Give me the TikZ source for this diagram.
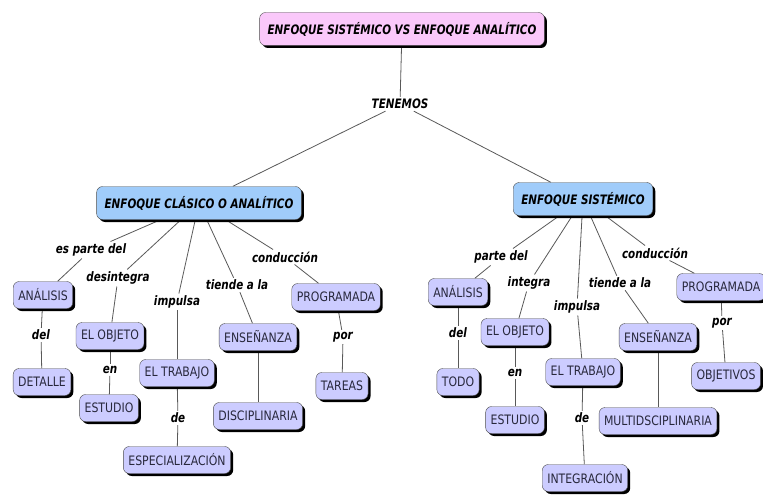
\documentclass[tikz,border=0pt]{standalone}
\usepackage{fontspec}
\setmainfont{DejaVu Sans}
\newfontfamily\boxfont[FakeStretch=0.84]{DejaVu Sans}
\newfontfamily\lblfont[FakeStretch=0.8]{DejaVu Sans Bold Oblique}
\usetikzlibrary{shadows}
\definecolor{boxc}{RGB}{204,204,255}
\definecolor{blu}{RGB}{160,204,250}
\definecolor{pnk}{RGB}{250,200,250}
\definecolor{txt}{RGB}{40,40,60}
\pgfdeclarelayer{bg}
\pgfdeclarelayer{lines}
\pgfsetlayers{bg,lines,main}
\tikzset{
  box/.style={draw=black!70, rounded corners=6pt, fill=boxc, text=txt,
    font=\boxfont\fontsize{13}{15}\selectfont, minimum height=27pt, inner xsep=5pt,
    drop shadow={shadow xshift=2.5pt, shadow yshift=-2.5pt, fill=black, opacity=1}},
  hdr/.style={box, font=\lblfont\fontsize{13}{15}\selectfont, text=black,
    minimum height=33pt, inner xsep=8pt},
  lbl/.style={font=\lblfont\fontsize{13}{15}\selectfont, inner sep=2pt, text=black},
  conn/.style={draw=black!65, line width=0.8pt}
}
\begin{document}
\begin{tikzpicture}[x=1pt,y=-1pt]
\begin{pgfonlayer}{bg}
\fill[white] (0,0) rectangle (763,495);
\end{pgfonlayer}
\useasboundingbox (0,0) rectangle (763,495);
% top
\node[hdr, fill=pnk] (title) at (402,29) {ENFOQUE SISTÉMICO VS ENFOQUE ANALÍTICO};
\node[lbl] (ten) at (400,104) {TENEMOS};
\node[hdr, fill=blu] (eca) at (199,203) {ENFOQUE CLÁSICO O ANALÍTICO};
\node[hdr, fill=blu] (es) at (583,199) {ENFOQUE SISTÉMICO};
% left cluster
\node[lbl] (l1) at (91,250) {es parte del};
\node[box] (lan) at (43,295) {ANÁLISIS};
\node[lbl] (l1b) at (41,335) {del};
\node[box] (ldet) at (42,382) {DETALLE};
\node[lbl] (l2) at (118,278) {desintegra};
\node[box] (lobj) at (110,336) {EL OBJETO};
\node[lbl] (l2b) at (110,370) {en};
\node[box] (lest) at (109,408) {ESTUDIO};
\node[lbl] (l3) at (177,302) {impulsa};
\node[box] (ltra) at (177,373) {EL TRABAJO};
\node[lbl] (l3b) at (178,418) {de};
\node[box] (lesp) at (177,460) {ESPECIALIZACIÓN};
\node[lbl] (l4) at (237,285) {tiende a la};
\node[box] (lens) at (258,337) {ENSEÑANZA};
\node[box] (ldis) at (258,416) {DISCIPLINARIA};
\node[lbl] (l5) at (285,257) {conducción};
\node[box] (lpro) at (336,297) {PROGRAMADA};
\node[lbl] (l5b) at (343,337) {por};
\node[box] (ltar) at (342,386) {TAREAS};
% right cluster
\node[lbl] (r1) at (501,257) {parte del};
\node[box] (ran) at (458,292) {ANÁLISIS};
\node[lbl] (r1b) at (458,333) {del};
\node[box] (rtod) at (458,382) {TODO};
\node[lbl] (r2) at (529,283) {integra};
\node[box] (robj) at (515,332) {EL OBJETO};
\node[lbl] (r2b) at (515,373) {en};
\node[box] (rest) at (515,420) {ESTUDIO};
\node[lbl] (r3) at (577,307) {impulsa};
\node[box] (rtra) at (583,372) {EL TRABAJO};
\node[lbl] (r3b) at (582,418) {de};
\node[box] (rint) at (585,478) {INTEGRACIÓN};
\node[lbl] (r4) at (620,283) {tiende a la};
\node[box] (rens) at (658,337) {ENSEÑANZA};
\node[box] (rmul) at (658,421) {MULTIDSCIPLINARIA};
\node[lbl] (r5) at (655,253) {conducción};
\node[box] (rpro) at (721,287) {PROGRAMADA};
\node[lbl] (r5b) at (722,323) {por};
\node[box] (robjv) at (726,376) {OBJETIVOS};
\begin{pgfonlayer}{lines}
\draw[conn] (title) -- (ten);
\draw[conn] (ten) -- (eca);
\draw[conn] (ten) -- (es);
% left
\draw[conn] (eca) -- (l1); \draw[conn] (l1) -- (lan);
\draw[conn] (lan) -- (l1b); \draw[conn] (l1b) -- (ldet);
\draw[conn] (eca) -- (l2); \draw[conn] (l2) -- (lobj);
\draw[conn] (lobj) -- (l2b); \draw[conn] (l2b) -- (lest);
\draw[conn] (eca) -- (l3); \draw[conn] (l3) -- (ltra);
\draw[conn] (ltra) -- (l3b); \draw[conn] (l3b) -- (lesp);
\draw[conn] (eca) -- (l4); \draw[conn] (l4) -- (lens);
\draw[conn] (lens) -- (ldis);
\draw[conn] (eca) -- (l5); \draw[conn] (l5) -- (lpro);
\draw[conn] (lpro) -- (l5b); \draw[conn] (l5b) -- (ltar);
% right
\draw[conn] (es) -- (r1); \draw[conn] (r1) -- (ran);
\draw[conn] (ran) -- (r1b); \draw[conn] (r1b) -- (rtod);
\draw[conn] (es) -- (r2); \draw[conn] (r2) -- (robj);
\draw[conn] (robj) -- (r2b); \draw[conn] (r2b) -- (rest);
\draw[conn] (es) -- (r3); \draw[conn] (r3) -- (rtra);
\draw[conn] (rtra) -- (r3b); \draw[conn] (r3b) -- (rint);
\draw[conn] (es) -- (r4); \draw[conn] (r4) -- (rens);
\draw[conn] (rens) -- (rmul);
\draw[conn] (es) -- (r5); \draw[conn] (r5) -- (rpro);
\draw[conn] (rpro) -- (r5b); \draw[conn] (r5b) -- (robjv);
\end{pgfonlayer}
\end{tikzpicture}
\end{document}
